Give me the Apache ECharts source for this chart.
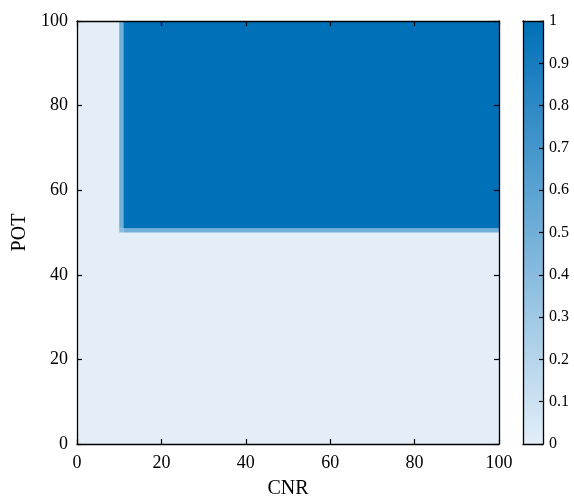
<!DOCTYPE html>
<html>
<head>
<meta charset="utf-8">
<script src="https://cdn.jsdelivr.net/npm/echarts@6/dist/echarts.min.js"></script>
<style>
  html, body { margin: 0; padding: 0; background: #fff; }
  #chart { width: 574px; height: 496px; }
</style>
</head>
<body>
<div id="chart"></div>
<script>
// Map cells: each patch spans [x0, x1] x [y0, y1] in (CNR, POT) with a value in [0, 1]
const cellX0 = [0, 10, 11, 10, 11];
const cellX1 = [100, 11, 100, 11, 100];
const cellY0 = [0, 51, 50, 50, 51];
const cellY1 = [100, 100, 51, 51, 100];
const cellValue = [0, 0.5, 0.5, 0.4, 1];

// Axis ranges and ticks
const cnrRange = [0, 100];
const potRange = [0, 100];
const axisStep = 20;
const barRange = [0, 1];
const barStep = 0.1;

// Colormap end points
const lowColor = '#e3eef8';
const highColor = '#0070b8';

const FONT = 'Liberation Serif';

const cells = cellValue.map((v, i) => [cellX0[i], cellX1[i], cellY0[i], cellY1[i], v]);

function axisBase(extra) {
  return Object.assign({
    type: 'value',
    z: 10,
    splitLine: { show: false },
    axisLine: { show: true, onZero: false, lineStyle: { color: '#000', width: 1.3 } },
    axisTick: { show: true, inside: true, length: 5, lineStyle: { color: '#000', width: 1.2 } },
    axisLabel: { show: false }
  }, extra);
}

const mainLabel = { show: true, color: '#000', fontFamily: FONT, fontSize: 18 };

const option = {
  animation: false,
  backgroundColor: '#fff',
  grid: [
    { left: 77, top: 21, width: 422, height: 423, outerBoundsMode: 'none', containLabel: false },
    { left: 523, top: 21, width: 20, height: 423, outerBoundsMode: 'none', containLabel: false }
  ],
  visualMap: {
    show: false,
    type: 'continuous',
    seriesIndex: 0,
    dimension: 4,
    min: barRange[0],
    max: barRange[1],
    inRange: { color: [lowColor, highColor] }
  },
  xAxis: [
    axisBase({
      gridIndex: 0, position: 'bottom', min: cnrRange[0], max: cnrRange[1], interval: axisStep,
      axisLabel: Object.assign({ margin: 10 }, mainLabel),
      name: 'CNR', nameLocation: 'middle', nameGap: 35,
      nameTextStyle: { color: '#000', fontFamily: FONT, fontSize: 20 }
    }),
    axisBase({ gridIndex: 0, position: 'top', min: cnrRange[0], max: cnrRange[1], interval: axisStep }),
    axisBase({ gridIndex: 1, position: 'bottom', min: 0, max: 1, axisTick: { show: false } }),
    axisBase({ gridIndex: 1, position: 'top', min: 0, max: 1, axisTick: { show: false } })
  ],
  yAxis: [
    axisBase({
      gridIndex: 0, position: 'left', min: potRange[0], max: potRange[1], interval: axisStep,
      axisLabel: Object.assign({ margin: 9 }, mainLabel),
      name: 'POT', nameLocation: 'middle', nameGap: 45, nameRotate: 90,
      nameTextStyle: { color: '#000', fontFamily: FONT, fontSize: 20 }
    }),
    axisBase({ gridIndex: 0, position: 'right', min: potRange[0], max: potRange[1], interval: axisStep }),
    axisBase({ gridIndex: 1, position: 'left', min: barRange[0], max: barRange[1], interval: barStep, axisTick: { show: false } }),
    axisBase({
      gridIndex: 1, position: 'right', min: barRange[0], max: barRange[1], interval: barStep,
      axisTick: { show: true, inside: true, length: 4, lineStyle: { color: '#000', width: 1.2 } },
      axisLabel: { show: true, color: '#000', fontFamily: FONT, fontSize: 16, margin: 6 }
    })
  ],
  series: [
    {
      type: 'custom',
      xAxisIndex: 0,
      yAxisIndex: 0,
      z: 1,
      encode: { x: [0, 1], y: [2, 3] },
      data: cells,
      renderItem: function (params, api) {
        const p0 = api.coord([api.value(0), api.value(2)]);
        const p1 = api.coord([api.value(1), api.value(3)]);
        return {
          type: 'rect',
          shape: {
            x: Math.min(p0[0], p1[0]),
            y: Math.min(p0[1], p1[1]),
            width: Math.abs(p1[0] - p0[0]),
            height: Math.abs(p1[1] - p0[1])
          },
          style: { fill: api.visual('color') }
        };
      }
    },
    {
      type: 'custom',
      xAxisIndex: 2,
      yAxisIndex: 2,
      z: 1,
      data: [[0, 1, barRange[0], barRange[1]]],
      renderItem: function (params, api) {
        const p0 = api.coord([api.value(0), api.value(2)]);
        const p1 = api.coord([api.value(1), api.value(3)]);
        return {
          type: 'rect',
          shape: {
            x: Math.min(p0[0], p1[0]),
            y: Math.min(p0[1], p1[1]),
            width: Math.abs(p1[0] - p0[0]),
            height: Math.abs(p1[1] - p0[1])
          },
          style: {
            fill: new echarts.graphic.LinearGradient(0, 1, 0, 0, [
              { offset: 0, color: lowColor },
              { offset: 1, color: highColor }
            ])
          }
        };
      }
    }
  ]
};

const chart = echarts.init(document.getElementById('chart'), null, { renderer: 'canvas' });
chart.setOption(option);
</script>
</body>
</html>
